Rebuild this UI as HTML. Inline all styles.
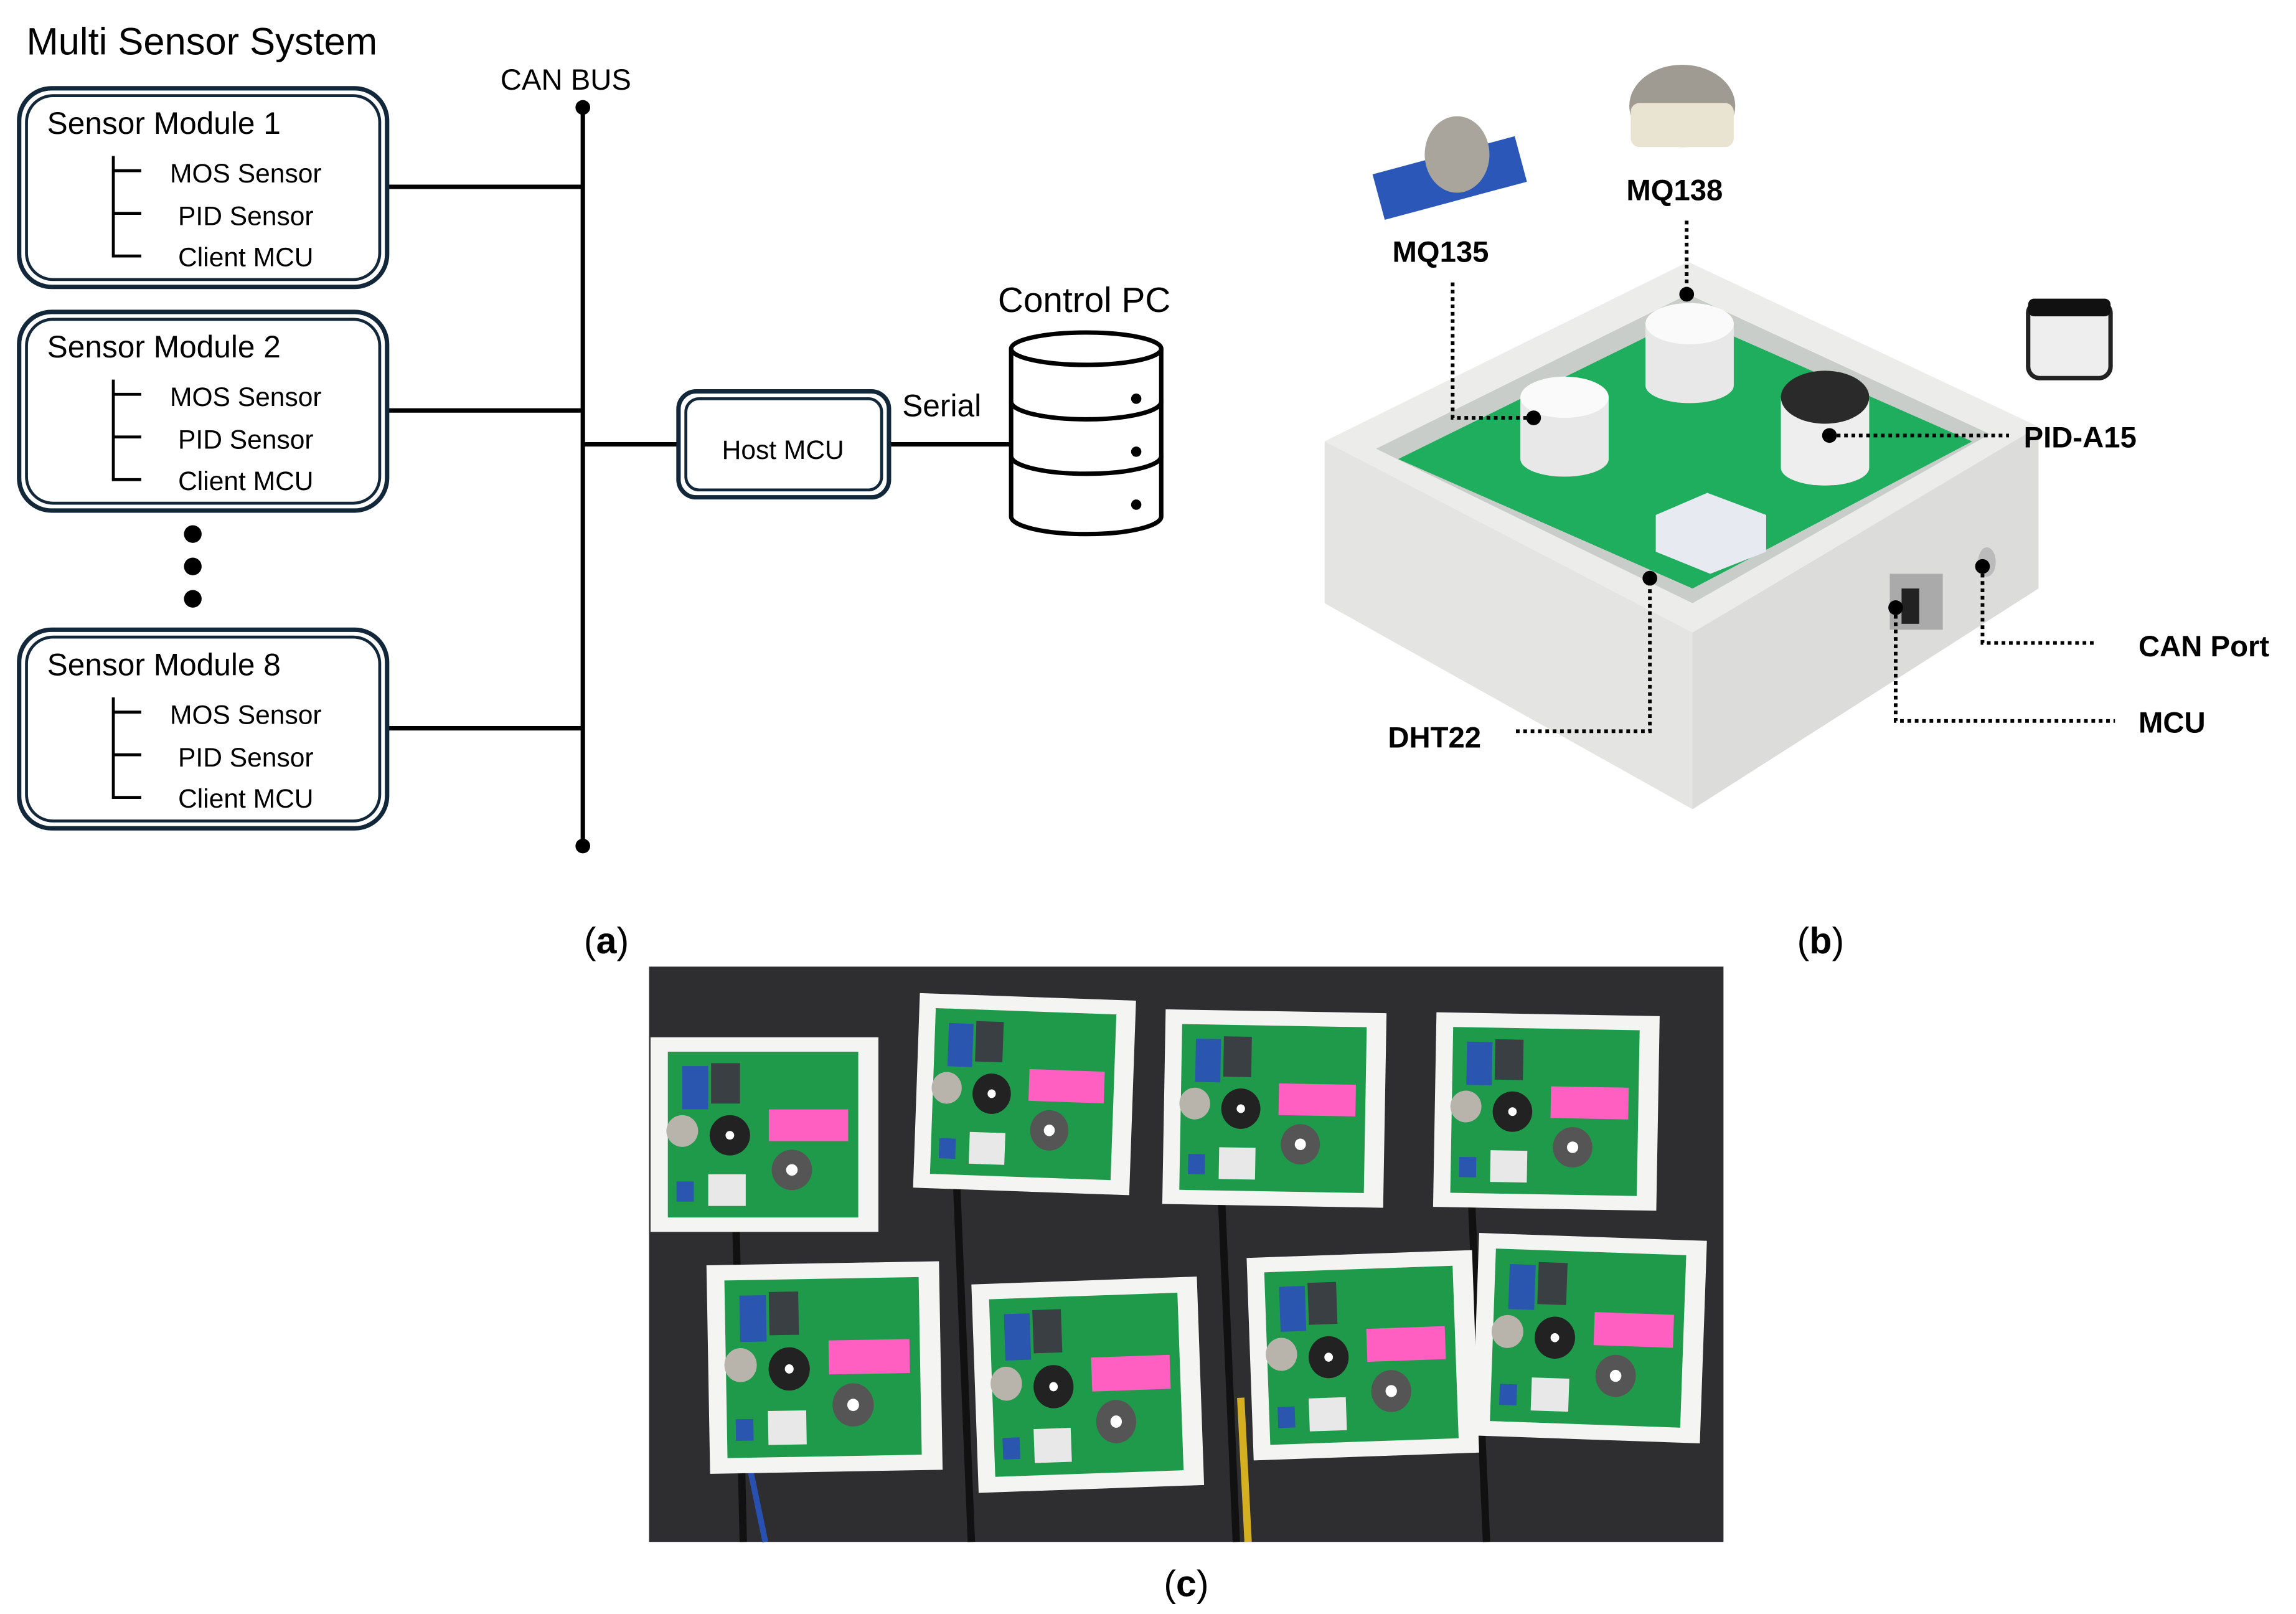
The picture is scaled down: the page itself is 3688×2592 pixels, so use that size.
<!DOCTYPE html>
<html><head><meta charset="utf-8"><style>
html,body{margin:0;padding:0;background:#fff;}
svg{display:block;}
text{font-family:"Liberation Sans",sans-serif;}
</style></head><body>
<svg width="3688" height="2592" viewBox="0 0 1560 1097" preserveAspectRatio="none" xmlns="http://www.w3.org/2000/svg">
<defs>
<g id="mod">
 <rect x="0" y="0" width="158" height="135" fill="#f4f4f2"/>
 <rect x="12" y="10" width="132" height="115" fill="#1f9a4a"/>
 <rect x="82" y="50" width="55" height="22" fill="#ff5fc0"/>
 <rect x="22" y="20" width="18" height="30" fill="#2a56b0"/>
 <rect x="42" y="18" width="20" height="28" fill="#3a3f44"/>
 <circle cx="22" cy="65" r="11" fill="#b8b4ac"/>
 <circle cx="55" cy="68" r="14" fill="#222"/>
 <circle cx="55" cy="68" r="3" fill="#fff"/>
 <circle cx="98" cy="92" r="14" fill="#555"/>
 <circle cx="98" cy="92" r="4" fill="#fff"/>
 <rect x="40" y="95" width="26" height="22" fill="#e8e8e8"/>
 <rect x="18" y="100" width="12" height="14" fill="#2a56b0"/>
</g>
</defs>
<rect width="1560" height="1097" fill="#fff"/>
<g fill="none" stroke="#000" stroke-width="3">
 <line x1="396" y1="73" x2="396" y2="575"/>
 <line x1="263" y1="127" x2="396" y2="127"/>
 <line x1="263" y1="279" x2="396" y2="279"/>
 <line x1="263" y1="495" x2="396" y2="495"/>
 <line x1="396" y1="302" x2="461" y2="302"/>
 <line x1="604" y1="302" x2="686" y2="302"/>
</g>
<circle cx="396" cy="73" r="5"/><circle cx="396" cy="575" r="5"/>
<circle cx="131" cy="363" r="6"/><circle cx="131" cy="385" r="6"/><circle cx="131" cy="407" r="6"/>
<text x="18" y="37" font-size="26">Multi Sensor System</text>
<text x="340" y="61" font-size="20">CAN BUS</text>
<g id="m1">
 <rect x="13" y="60" width="250" height="135" rx="22" fill="none" stroke="#12283a" stroke-width="3"/>
 <rect x="18" y="65" width="240" height="125" rx="18" fill="none" stroke="#12283a" stroke-width="2"/>
 <text x="32" y="91" font-size="21">Sensor Module 1</text>
 <path d="M77 106 V174 H96 M77 116 H96 M77 145 H96" stroke="#000" stroke-width="2" fill="none"/>
 <g font-size="18" text-anchor="middle"><text x="167" y="124">MOS Sensor</text><text x="167" y="153">PID Sensor</text><text x="167" y="181">Client MCU</text></g>
</g>
<g transform="translate(0,152)">
 <rect x="13" y="60" width="250" height="135" rx="22" fill="none" stroke="#12283a" stroke-width="3"/>
 <rect x="18" y="65" width="240" height="125" rx="18" fill="none" stroke="#12283a" stroke-width="2"/>
 <text x="32" y="91" font-size="21">Sensor Module 2</text>
 <path d="M77 106 V174 H96 M77 116 H96 M77 145 H96" stroke="#000" stroke-width="2" fill="none"/>
 <g font-size="18" text-anchor="middle"><text x="167" y="124">MOS Sensor</text><text x="167" y="153">PID Sensor</text><text x="167" y="181">Client MCU</text></g>
</g>
<g transform="translate(0,368)">
 <rect x="13" y="60" width="250" height="135" rx="22" fill="none" stroke="#12283a" stroke-width="3"/>
 <rect x="18" y="65" width="240" height="125" rx="18" fill="none" stroke="#12283a" stroke-width="2"/>
 <text x="32" y="91" font-size="21">Sensor Module 8</text>
 <path d="M77 106 V174 H96 M77 116 H96 M77 145 H96" stroke="#000" stroke-width="2" fill="none"/>
 <g font-size="18" text-anchor="middle"><text x="167" y="124">MOS Sensor</text><text x="167" y="153">PID Sensor</text><text x="167" y="181">Client MCU</text></g>
</g>
<rect x="461" y="266" width="143" height="72" rx="12" fill="#fff" stroke="#12283a" stroke-width="3"/>
<rect x="466" y="271" width="133" height="62" rx="9" fill="none" stroke="#12283a" stroke-width="2"/>
<text x="532" y="312" font-size="18" text-anchor="middle">Host MCU</text>
<text x="613" y="283" font-size="21">Serial</text>
<text x="678" y="212" font-size="24">Control PC</text>
<g fill="#fff" stroke="#000" stroke-width="3">
 <path d="M687 237 V351 A51 12 0 0 0 789 351 V237"/>
 <ellipse cx="738" cy="237" rx="51" ry="11"/>
 <path d="M687 273 A51 12 0 0 0 789 273 M687 310 A51 12 0 0 0 789 310" fill="none"/>
</g>
<circle cx="772" cy="271" r="3.5"/><circle cx="772" cy="307" r="3.5"/><circle cx="772" cy="343" r="3.5"/>
<!-- (b) -->
<polygon points="900,300 1147,178 1385,290 1385,400 1150,550 900,410" fill="#e4e4e2"/>
<polygon points="900,300 1147,178 1385,290 1150,430" fill="#ececea"/>
<polygon points="1150,430 1385,290 1385,400 1150,550" fill="#dcdcda"/>
<polygon points="935,305 1147,200 1352,295 1150,410" fill="#c9cdca"/>
<polygon points="950,312 1147,215 1340,300 1150,400" fill="#1fae5e"/>
<path d="M1033 270 V312 A30 12 0 0 0 1093 312 V270 Z" fill="#e8e8e8"/>
<ellipse cx="1063" cy="270" rx="30" ry="14" fill="#fafafa"/>
<path d="M1118 220 V262 A30 12 0 0 0 1178 262 V220 Z" fill="#e8e8e8"/>
<ellipse cx="1148" cy="220" rx="30" ry="14" fill="#fafafa"/>
<path d="M1210 270 V318 A30 12 0 0 0 1270 318 V270 Z" fill="#eeeeee"/>
<ellipse cx="1240" cy="270" rx="30" ry="18" fill="#2a2a2a"/>
<polygon points="1125,350 1160,335 1200,350 1200,375 1162,390 1125,375" fill="#e8eaf2"/>
<rect x="1284" y="390" width="36" height="38" fill="#aaa"/>
<rect x="1292" y="400" width="12" height="24" fill="#222"/>
<ellipse cx="1350" cy="382" rx="6" ry="10" fill="#bbb"/>
<rect x="935" y="105" width="100" height="32" fill="#2a57b8" transform="rotate(-15 985 121)"/>
<ellipse cx="990" cy="105" rx="22" ry="26" fill="#a9a59c"/>
<ellipse cx="1143" cy="72" rx="36" ry="28" fill="#9f9b93"/>
<rect x="1108" y="70" width="70" height="30" rx="6" fill="#e9e4d2"/>
<rect x="1378" y="205" width="56" height="52" rx="8" fill="#eee" stroke="#222" stroke-width="3"/>
<rect x="1378" y="203" width="56" height="12" rx="4" fill="#111"/>
<g font-weight="bold" font-size="20">
 <text x="946" y="178">MQ135</text><text x="1105" y="136">MQ138</text>
 <text x="1375" y="304">PID-A15</text><text x="1453" y="446">CAN Port</text>
 <text x="1453" y="498">MCU</text><text x="943" y="508">DHT22</text>
</g>
<g fill="none" stroke="#000" stroke-width="2.5" stroke-dasharray="2.5 2.5">
 <path d="M987 192 V284 H1042"/><path d="M1146 150 V200"/><path d="M1243 296 H1365"/>
 <path d="M1030 497 H1121 V393"/><path d="M1347 385 V437 H1425"/><path d="M1288 413 V490 H1437"/>
</g>
<g><circle cx="1042" cy="284" r="5"/><circle cx="1146" cy="200" r="5"/><circle cx="1243" cy="296" r="5"/><circle cx="1121" cy="393" r="5"/><circle cx="1347" cy="385" r="5"/><circle cx="1288" cy="413" r="5"/></g>
<!-- captions -->
<g font-family="Liberation Serif,serif" font-size="25" text-anchor="middle">
 <text x="412" y="648">(<tspan font-weight="bold">a</tspan>)</text>
 <text x="1237" y="648">(<tspan font-weight="bold">b</tspan>)</text>
 <text x="806" y="1085">(<tspan font-weight="bold">c</tspan>)</text>
</g>
<!-- (c) photo -->
<rect x="441" y="657" width="730" height="391" fill="#2e2e30"/>
<g stroke="#111" stroke-width="5"><line x1="500" y1="830" x2="505" y2="1048"/><line x1="650" y1="805" x2="660" y2="1048"/><line x1="830" y1="815" x2="840" y2="1048"/><line x1="1000" y1="820" x2="1010" y2="1048"/></g>
<line x1="843" y1="950" x2="848" y2="1048" stroke="#d4b020" stroke-width="5"/>
<line x1="510" y1="1000" x2="520" y2="1048" stroke="#2850b0" stroke-width="4"/>
<use href="#mod" transform="translate(442,705) scale(0.98,0.98)"/>
<use href="#mod" transform="translate(625,675) rotate(2) scale(0.93,0.98)"/>
<use href="#mod" transform="translate(792,686) rotate(1) scale(0.95,0.98)"/>
<use href="#mod" transform="translate(976,688) rotate(1) scale(0.96,0.98)"/>
<use href="#mod" transform="translate(480,860) rotate(-1) scale(1,1.05)"/>
<use href="#mod" transform="translate(660,873) rotate(-2) scale(0.97,1.05)"/>
<use href="#mod" transform="translate(847,855) rotate(-2) scale(0.97,1.02)"/>
<use href="#mod" transform="translate(1005,838) rotate(2) scale(0.98,1.02)"/>
</svg>
</body></html>
